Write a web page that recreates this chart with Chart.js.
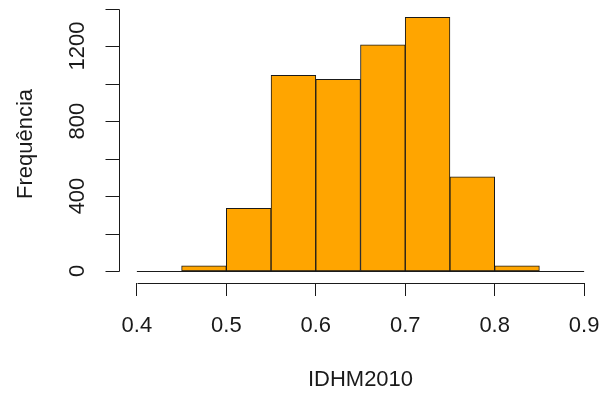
<!DOCTYPE html>
<html>
<head>
<meta charset="utf-8">
<script src="https://cdn.jsdelivr.net/npm/chart.js@4.4.1/dist/chart.umd.min.js"></script>
<style>
  body { margin: 0; background: #fff; }
</style>
</head>
<body>
<canvas id="histChart" width="602" height="394"></canvas>
<script>
// histogram bins (left edges), all 0.05 wide
const binStarts = [0.40, 0.45, 0.50, 0.55, 0.60, 0.65, 0.70, 0.75, 0.80, 0.85];
const binWidth = 0.05;
const counts = [0, 28, 334, 1044, 1022, 1207, 1353, 503, 27, 0];

const xTicks = [0.4, 0.5, 0.6, 0.7, 0.8, 0.9];
const yTicks = [0, 200, 400, 600, 800, 1000, 1200, 1400];
const yTickLabels = ["0", "", "400", "", "800", "", "1200", ""];

const ink = "#1a1a1a";
const fontFamily = "'Liberation Sans', Arial, sans-serif";

// R style axes: lines only span first..last tick, plus the bar baseline
const rAxes = {
  id: "rAxes",
  afterDatasetsDraw(chart) {
    const { ctx, chartArea } = chart;
    const x = chart.scales.x;
    const y = chart.scales.y;
    ctx.save();
    ctx.strokeStyle = ink;
    ctx.lineWidth = 1;
    ctx.beginPath();
    // baseline under the bins
    const y0 = Math.round(y.getPixelForValue(0)) + 0.5;
    ctx.moveTo(x.getPixelForValue(binStarts[0]), y0);
    ctx.lineTo(x.getPixelForValue(binStarts[binStarts.length - 1] + binWidth), y0);
    // x axis line
    const xb = Math.round(chartArea.bottom) + 0.5;
    ctx.moveTo(Math.round(x.getPixelForValue(xTicks[0])) + 0.5, xb);
    ctx.lineTo(Math.round(x.getPixelForValue(xTicks[xTicks.length - 1])) + 0.5, xb);
    // y axis line + tick marks
    const yl = Math.round(chartArea.left) + 0.5;
    ctx.moveTo(yl, Math.round(y.getPixelForValue(yTicks[0])) + 0.5);
    ctx.lineTo(yl, Math.round(y.getPixelForValue(yTicks[yTicks.length - 1])) + 0.5);
    yTicks.forEach((v) => {
      const py = Math.round(y.getPixelForValue(v)) + 0.5;
      ctx.moveTo(yl - 14, py);
      ctx.lineTo(yl, py);
    });
    ctx.stroke();
    ctx.restore();
  }
};

const ctx = document.getElementById("histChart");

const chart = new Chart(ctx, {
  type: "bar",
  data: {
    datasets: [
      {
        label: "IDHM2010",
        data: binStarts.map((b, i) => ({ x: b + binWidth / 2, y: counts[i] })),
        backgroundColor: "#FFA500",
        borderColor: ink,
        borderWidth: 1,
        borderSkipped: false,
        categoryPercentage: 1.0,
        barPercentage: 1.0,
      },
    ],
  },
  options: {
    responsive: false,
    animation: false,
    layout: { padding: { top: 5, right: 0, bottom: 0, left: 0 } },
    plugins: {
      legend: { display: false },
      tooltip: { enabled: false },
    },
    scales: {
      x: {
        type: "linear",
        min: 0.38,
        max: 0.92,
        offset: false,
        grid: {
          offset: false,
          drawOnChartArea: false,
          drawTicks: true,
          tickLength: 13,
          color: ink,
        },
        border: { display: false },
        afterBuildTicks: (s) => { s.ticks = xTicks.map((v) => ({ value: v })); },
        afterFit: (s) => {
          s.height = 111;
          s.paddingLeft = 0;
          s.paddingRight = 0;
        },
        ticks: {
          padding: 17,
          maxRotation: 0,
          color: ink,
          font: { family: fontFamily, size: 22 },
          callback: (v) => v.toFixed(1),
        },
        title: {
          display: true,
          text: "IDHM2010",
          color: ink,
          font: { family: fontFamily, size: 22 },
          padding: { top: 0, bottom: 1 },
        },
      },
      y: {
        min: -64,
        max: 1419,
        grid: { display: false, drawTicks: true, tickLength: 14 },
        border: { display: false },
        afterBuildTicks: (s) => { s.ticks = yTicks.map((v) => ({ value: v })); },
        afterFit: (s) => {
          s.width = 119;
          s.paddingTop = 0;
          s.paddingBottom = 0;
        },
        ticks: {
          padding: 3,
          minRotation: 90,
          maxRotation: 90,
          crossAlign: "center",
          color: ink,
          font: { family: fontFamily, size: 22 },
          callback: (v) => yTickLabels[yTicks.indexOf(v)],
        },
        title: {
          display: true,
          text: "Frequência",
          color: ink,
          font: { family: fontFamily, size: 22 },
          padding: { top: 13, bottom: 0 },
        },
      },
    },
  },
  plugins: [rAxes],
});
</script>
</body>
</html>
